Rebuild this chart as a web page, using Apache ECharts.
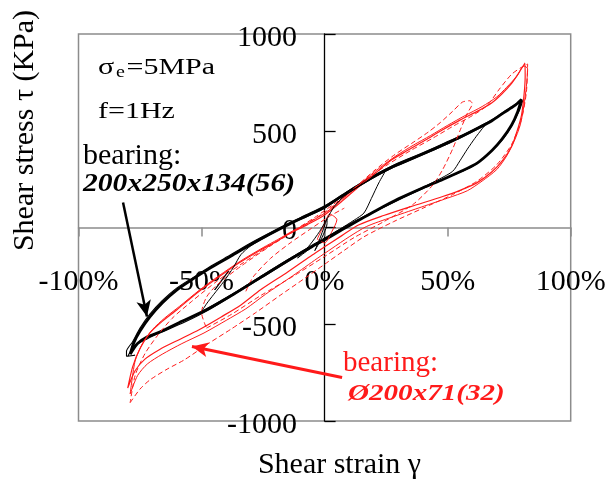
<!DOCTYPE html>
<html><head><meta charset="utf-8">
<script src="https://cdn.jsdelivr.net/npm/echarts@6/dist/echarts.min.js"></script>
<style>html,body{margin:0;padding:0;background:#fff}#c{width:609px;height:481px}</style>
</head><body><div id="c"></div>
<script>
// ---- axis ranges / ticks ----
const xRange = [-100, 100];   // shear strain (%)
const xStep = 50;
const yRange = [-1000, 1000]; // shear stress (kPa)
const yStep = 500;

// ---- bearing 200x250x134(56) : black loops [strain %, stress kPa] ----
const blackMain = [[-79,-655],[-76,-600],[-72,-565],[-67,-540],[-58,-485],[-48,-425],[-37,-345],[-26,-258],[-15,-172],[-5,-98],[0,-64],[7,-12],[14,38],[21,88],[30,148],[40,205],[48,248],[55,288],[62,333],[68,398],[72,455],[76,530],[78.5,600],[80,662],
 [77,628],[73,595],[68,552],[62,512],[55,466],[48,426],[41,386],[34,348],[28,316],[21,270],[14,218],[7,162],[0,105],[-7,62],[-14,20],[-22,-32],[-30,-88],[-38,-148],[-46,-206],[-53,-262],[-60,-322],[-66,-390],[-71,-462],[-75,-535],[-77.5,-595],[-79,-655]];
const blackCycle2 = [[-80,-665],[-77,-610],[-72,-575],[-66,-540],[-57,-490],[-47,-425],[-36,-340],[-25,-255],[-14,-168],[-4,-92],[0,-60],[8,-2],[15,46],[23,98],[33,160],[43,220],[52,270],[60,315],[67,385],[72,450],[76,525],[79,600],[80.5,655],
 [78,640],[74,608],[69,565],[63,522],[56,478],[49,438],[42,398],[35,360],[28,322],[21,276],[14,224],[7,168],[0,112],[-7,68],[-14,26],[-22,-26],[-30,-80],[-38,-140],[-46,-198],[-53,-255],[-60,-312],[-66,-378],[-71,-448],[-75,-520],[-78,-590],[-80.5,-640],[-80.5,-665],[-77,-660],[-80,-665]];
const blackInnerB = [[-50,-435],[-44,-392],[-37,-340],[-26,-252],[-15,-166],[-5,-90],[0,-54],[8,4],[16,58],[25,112],[35,178],[45,240],[52,290],[55,345],[58,405],[61,460],[64,510],[65,525],
 [60,494],[55,462],[48,420],[41,382],[34,344],[28,310],[21,265],[14,213],[7,158],[0,100],[-7,57],[-14,18],[-22,-36],[-30,-95],[-34,-140],[-37,-205],[-41,-280],[-45,-345],[-48,-395],[-50,-435]];
const blackInnerA = [[-11,-158],[-6,-110],[0,-58],[6,-10],[12,38],[16,75],[19,150],[22,230],[25,298],[20,262],[14,214],[8,162],[4,110],[1,45],[-2,-20],[-6,-90],[-11,-158]];
const blackInnerTiny = [[-4,-120],[-1,-50],[1,20],[1,45],[0,10],[-2,-60],[-4,-120]];

// ---- bearing Ø200x71(32) : red loops ----
const redMain = [[-80,-830],[-77,-740],[-73,-680],[-67,-630],[-60,-585],[-51,-528],[-42,-462],[-34,-400],[-26,-322],[-15,-230],[-5,-142],[0,-100],[7,-42],[14,14],[24,62],[35,108],[48,160],[55,192],[62,232],[68,288],[72.5,350],[76,420],[78,490],[80,580],[81,680],[81.5,780],[81.4,850],
 [79,800],[76,745],[72,690],[68,645],[62,600],[55,555],[48,505],[41,452],[34,400],[27,348],[21,285],[14,212],[7,135],[0,65],[-7,15],[-14,-30],[-20,-75],[-26,-116],[-35,-185],[-44,-265],[-52,-340],[-60,-425],[-66,-485],[-71,-545],[-75,-625],[-78,-720],[-80,-830]];
const redCycle2 = [[-79,-860],[-76,-765],[-72,-705],[-66,-655],[-58,-600],[-49,-545],[-40,-480],[-32,-420],[-24,-345],[-13,-250],[-3,-160],[3,-108],[10,-48],[17,5],[27,52],[38,100],[50,152],[58,190],[64,240],[70,300],[74,370],[77,445],[79.5,530],[81,630],[82,730],[82.5,820],
 [81,835],[78,780],[74,725],[70,675],[64,625],[57,578],[50,528],[43,475],[36,425],[29,370],[22,305],[15,232],[8,155],[1,82],[-6,28],[-13,-18],[-19,-62],[-25,-104],[-34,-172],[-43,-250],[-51,-325],[-59,-408],[-65,-468],[-70,-528],[-74,-600],[-77,-690],[-79,-860]];
const redDashOuter = [[-79,-905],[-75,-835],[-71,-788],[-64,-732],[-57,-684],[-47,-598],[-38,-525],[-28,-440],[-18,-350],[-8,-262],[0,-190],[8,-118],[16,-48],[28,30],[40,100],[52,170],[62,240],[70,325],[76,430],[80,560],[82,700],[82.5,845],
 [80,828],[76,792],[71,715],[66,630],[60,578],[52,522],[44,462],[35,398],[26,328],[16,242],[6,142],[-4,52],[-14,-28],[-24,-108],[-34,-190],[-44,-280],[-54,-382],[-62,-470],[-68,-560],[-73,-652],[-77,-765],[-79,-905]];
const redDashInner = [[-48,-520],[-38,-450],[-26,-352],[-12,-246],[0,-150],[12,-52],[24,30],[36,120],[44,220],[48,300],[52,405],[55,500],[58,590],[60,640],[59,655],
 [56,648],[52,600],[47,542],[42,492],[36,440],[28,372],[20,292],[10,180],[0,78],[-10,0],[-22,-95],[-34,-200],[-44,-300],[-48,-360],[-50,-440],[-48,-520]];
const redDashCross = [[-32,-330],[-29,-255],[-22,-160],[-14,-80],[-6,-10],[2,58],[8,100]];
const redDashTiny = [[-3,-60],[0,20],[2,70],[5,40],[3,-20],[0,-80],[-3,-60]];

// ---- annotation arrows (data coordinates) ----
const blackArrow = [[-81.9,129],[-72.2,-460]];
const redArrow = [[7.1,-775],[-53.9,-615]];

const FONT = '"Liberation Serif","Times New Roman",serif';
const RED = '#ff1a1a';

function loop(data, color, width, dashed, z) {
  return {type:'line', data, symbol:'none', showSymbol:false, smooth:0.25, z:z,
    lineStyle:{color, width, type: dashed ? [5,3] : 'solid'}, animation:false, silent:true};
}
function arrow(pts, color, width) {
  return {type:'line', data:[], z:10, silent:true, animation:false,
    markLine:{silent:true, animation:false, symbol:['none','arrow'], symbolSize:[11,16],
      label:{show:false}, lineStyle:{color, width, type:'solid'},
      data:[[{coord:pts[0]},{coord:pts[1]}]]}};
}
function txt(t, x, y, size, opts) {
  opts = opts || {};
  return {type:'text', x, y, scaleY: opts.sy || 1, rotation: opts.rot || 0, z:20,
    style:{text:t, font:(opts.weight||'normal') + ' ' + (opts.italic?'italic ':'') + size + 'px ' + FONT,
      fill: opts.color || '#000', align: opts.align || 'left', textAlign: opts.align || 'left',
      verticalAlign:'middle', textVerticalAlign:'middle'}};
}

const chart = echarts.init(document.getElementById('c'), null, {renderer:'canvas'});
chart.setOption({
  animation:false,
  backgroundColor:'#fff',
  grid:{left:78.5, right:38.3, top:34, bottom:60, show:true, borderColor:'#8c8c8c', borderWidth:1.5,
    backgroundColor:'transparent', containLabel:false, outerBoundsMode:'none'},
  xAxis:{type:'value', min:xRange[0], max:xRange[1], interval:xStep,
    axisLine:{onZero:true, lineStyle:{color:'#8c8c8c', width:1.5}},
    axisTick:{show:true, length:9, lineStyle:{color:'#8c8c8c', width:1.5}},
    axisLabel:{formatter: v => v + '%', fontFamily:FONT, fontSize:30, color:'#000', margin:-154},
    splitLine:{show:false}},
  yAxis:{type:'value', min:yRange[0], max:yRange[1], interval:yStep,
    axisLine:{show:true, onZero:true, lineStyle:{color:'#000', width:1.3}},
    axisTick:{show:true, inside:true, length:11, lineStyle:{color:'#000', width:1.3}},
    axisLabel:{formatter: v => '{a|' + v + '}', color:'#000', margin:-218.5,
      rich:{a:{fontFamily:FONT, fontSize:30, color:'#000', padding:[8,0,0,0]}}},
    splitLine:{show:false}},
  series:[
    loop(blackCycle2, '#000', 1.1, false, 3),
    loop(blackMain, '#000', 2.8, false, 3),
    loop(redMain, RED, 1.2, false, 4),
    loop(redCycle2, RED, 1.0, false, 4),
    loop(redDashOuter, RED, 1.0, true, 4),
    loop(redDashInner, RED, 1.0, true, 4),
    loop(redDashCross, RED, 1.0, true, 4),
    loop(redDashTiny, RED, 1.0, false, 4),
    loop(blackInnerB, '#000', 1.0, false, 5),
    loop(blackInnerA, '#000', 1.0, false, 5),
    loop(blackInnerTiny, '#000', 1.0, false, 5),
    arrow(blackArrow, '#000', 2.5),
    arrow(redArrow, RED, 3)
  ],
  graphic:[
    txt('Shear stress τ (KPa)', 25.5, 130.5, 30, {align:'center', rot:Math.PI/2}),
    txt('Shear strain γ', 339.5, 465, 30, {align:'center'}),
    txt('σ', 98, 68, 30, {sy:0.75}),
    txt('e', 116, 73, 20, {sy:0.85}),
    txt('=5MPa', 126.5, 68, 30, {sy:0.75}),
    txt('f=1Hz', 98, 112.5, 30, {sy:0.75}),
    txt('bearing:', 83, 156, 30),
    txt('200x250x134(56)', 83, 185, 29.6, {weight:'bold', italic:true, sy:0.83}),
    txt('bearing:', 343, 363.5, 29, {color:RED}),
    txt('Ø200x71(32)', 348, 394, 29.1, {weight:'bold', italic:true, sy:0.76, color:RED})
  ]
});
</script></body></html>
